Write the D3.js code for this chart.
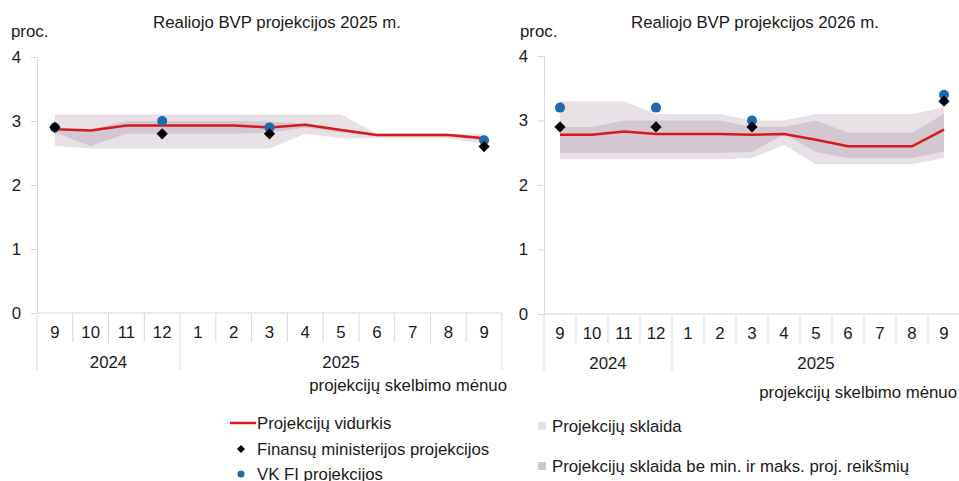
<!DOCTYPE html>
<html lang="lt">
<head>
<meta charset="utf-8">
<title>Realiojo BVP projekcijos</title>
<script src="https://d3js.org/d3.v7.min.js"></script>
<style>
  body { margin: 0; background: #fff; }
  text { font-family: "Liberation Sans", Arial, sans-serif; fill: #1a1a1a; }
</style>
</head>
<body>
<script>
// projection announcement months
var months = ["9", "10", "11", "12", "1", "2", "3", "4", "5", "6", "7", "8", "9"];
var years = [{label: "2024", from: 0, to: 4}, {label: "2025", from: 4, to: 13}];

// 2025 GDP projections
var mean25   = [2.87, 2.85, 2.93, 2.93, 2.93, 2.93, 2.90, 2.94, 2.86, 2.78, 2.78, 2.78, 2.73];
var max25    = [3.10, 3.10, 3.10, 3.10, 3.10, 3.10, 3.10, 3.10, 3.10, 2.80, 2.80, 2.80, 2.80];
var min25    = [2.61, 2.57, 2.57, 2.57, 2.57, 2.57, 2.57, 2.80, 2.73, 2.73, 2.73, 2.73, 2.64];
var innMax25 = [2.89, 2.87, 3.00, 3.00, 3.00, 3.00, 2.99, 2.96, 2.88, 2.80, 2.80, 2.80, 2.76];
var innMin25 = [2.82, 2.61, 2.80, 2.80, 2.80, 2.80, 2.82, 2.90, 2.82, 2.76, 2.76, 2.76, 2.69];
var fm25 = [{i: 0, v: 2.9}, {i: 3, v: 2.8}, {i: 6, v: 2.8}, {i: 12, v: 2.6}];
var vk25 = [{i: 0, v: 2.9}, {i: 3, v: 3.0}, {i: 6, v: 2.9}, {i: 12, v: 2.7}];

// 2026 GDP projections
var mean26   = [2.78, 2.78, 2.83, 2.79, 2.79, 2.79, 2.78, 2.79, 2.70, 2.60, 2.60, 2.60, 2.86];
var max26    = [3.30, 3.30, 3.30, 3.10, 3.10, 3.10, 3.00, 3.00, 3.10, 3.10, 3.10, 3.10, 3.20];
var min26    = [2.40, 2.40, 2.40, 2.40, 2.40, 2.40, 2.42, 2.62, 2.32, 2.32, 2.32, 2.32, 2.42];
var innMax26 = [2.90, 2.90, 3.00, 3.00, 3.00, 3.00, 2.90, 2.90, 3.00, 2.81, 2.81, 2.81, 3.10];
var innMin26 = [2.50, 2.50, 2.50, 2.50, 2.50, 2.50, 2.51, 2.79, 2.51, 2.42, 2.42, 2.42, 2.52];
var fm26 = [{i: 0, v: 2.9}, {i: 3, v: 2.9}, {i: 6, v: 2.9}, {i: 12, v: 3.3}];
var vk26 = [{i: 0, v: 3.2}, {i: 3, v: 3.2}, {i: 6, v: 3.0}, {i: 12, v: 3.4}];

var yTicks = [0, 1, 2, 3, 4];

var colOuter = "#e7e1e6", colInner = "#d3c7d1", colRed = "#d7191c", colBlue = "#1f6aad", colAxis = "#d9d9d9";
var fs = "16.8px";

var svg = d3.select("body").append("svg")
    .attr("width", 959)
    .attr("height", 481);

function panel(opt) {
    var x = d3.scaleBand().domain(d3.range(months.length)).range([opt.x0, opt.x1]).padding(0);
    var y = d3.scaleLinear().domain([0, 4]).range([opt.yb, opt.yt]);
    var cx = function(i) { return x(i) + x.bandwidth() / 2; };
    var g = svg.append("g");

    g.append("text")
        .attr("x", opt.titleX).attr("y", 28)
        .attr("text-anchor", "middle")
        .style("font-size", fs)
        .text(opt.title);
    g.append("text")
        .attr("x", opt.procX).attr("y", 37)
        .style("font-size", fs)
        .text("proc.");

    // bands
    var outer = d3.area().x(function(d, i) { return cx(i); })
        .y0(function(d, i) { return y(opt.min[i]); })
        .y1(function(d, i) { return y(opt.max[i]); });
    var inner = d3.area().x(function(d, i) { return cx(i); })
        .y0(function(d, i) { return y(opt.innMin[i]); })
        .y1(function(d, i) { return y(opt.innMax[i]); });
    g.append("path").datum(months).attr("d", outer).attr("fill", colOuter);
    g.append("path").datum(months).attr("d", inner).attr("fill", colInner);

    // y axis
    var ya = g.append("g")
        .attr("transform", "translate(" + opt.x0 + ",0)")
        .call(d3.axisLeft(y).tickValues(yTicks).tickSize(6).tickPadding(10).tickFormat(d3.format("d")));
    ya.select(".domain").attr("stroke", colAxis);
    ya.selectAll(".tick line").attr("stroke", colAxis);
    ya.selectAll(".tick text").style("font-size", fs).attr("fill", "#1a1a1a")
        .style("font-family", "'Liberation Sans', Arial, sans-serif");

    // x axis line and separators
    g.append("line").attr("x1", opt.x0).attr("x2", opt.x1).attr("y1", y(0)).attr("y2", y(0))
        .attr("stroke", colAxis);
    var bounds = d3.range(months.length + 1);
    g.selectAll(".sep").data(bounds).enter().append("line")
        .attr("x1", function(b) { return x(0) + b * x.bandwidth(); })
        .attr("x2", function(b) { return x(0) + b * x.bandwidth(); })
        .attr("y1", y(0))
        .attr("y2", function(b) {
            var isYear = years.some(function(yr) { return yr.from === b || yr.to === b; });
            return isYear ? y(0) + 57 : y(0) + 29;
        })
        .attr("stroke", colAxis);
    g.selectAll(".mlab").data(months).enter().append("text")
        .attr("x", function(d, i) { return cx(i); })
        .attr("y", y(0) + 25)
        .attr("text-anchor", "middle")
        .style("font-size", fs)
        .text(function(d) { return d; });
    g.selectAll(".ylab").data(years).enter().append("text")
        .attr("x", function(d) { return x(0) + (d.from + d.to) / 2 * x.bandwidth(); })
        .attr("y", y(0) + 55)
        .attr("text-anchor", "middle")
        .style("font-size", fs)
        .text(function(d) { return d.label; });
    g.append("text")
        .attr("x", opt.axTitleX).attr("y", opt.axTitleY)
        .attr("text-anchor", "end")
        .style("font-size", fs)
        .text("projekcijų skelbimo mėnuo");

    // mean line
    var line = d3.line().x(function(d, i) { return cx(i); }).y(function(d) { return y(d); });
    g.append("path").datum(opt.mean).attr("d", line)
        .attr("fill", "none").attr("stroke", colRed).attr("stroke-width", 2.5);

    // points
    g.selectAll(".vk").data(opt.vk).enter().append("circle")
        .attr("cx", function(d) { return cx(d.i); })
        .attr("cy", function(d) { return y(d.v); })
        .attr("r", 5).attr("fill", colBlue);
    g.selectAll(".fm").data(opt.fm).enter().append("path")
        .attr("d", d3.symbol().type(d3.symbolDiamond2).size(80))
        .attr("transform", function(d) { return "translate(" + cx(d.i) + "," + y(d.v) + ")"; })
        .attr("fill", "#000");
}

panel({x0: 37, x1: 502, yt: 57, yb: 313, title: "Realiojo BVP projekcijos 2025 m.", titleX: 277, procX: 11,
       axTitleX: 507, axTitleY: 391,
       mean: mean25, max: max25, min: min25, innMax: innMax25, innMin: innMin25, fm: fm25, vk: vk25});
panel({x0: 544, x1: 960, yt: 56, yb: 314, title: "Realiojo BVP projekcijos 2026 m.", titleX: 755, procX: 520,
       axTitleX: 957, axTitleY: 398,
       mean: mean26, max: max26, min: min26, innMax: innMax26, innMin: innMin26, fm: fm26, vk: vk26});

// legend
var lg = svg.append("g").style("font-size", fs);
lg.append("line").attr("x1", 230).attr("x2", 256).attr("y1", 423).attr("y2", 423)
    .attr("stroke", colRed).attr("stroke-width", 2.5);
lg.append("text").attr("x", 257).attr("y", 429).text("Projekcijų vidurkis");
lg.append("path").attr("d", d3.symbol().type(d3.symbolDiamond2).size(40))
    .attr("transform", "translate(241,449)").attr("fill", "#000");
lg.append("text").attr("x", 257).attr("y", 455).text("Finansų ministerijos projekcijos");
lg.append("circle").attr("cx", 241).attr("cy", 474).attr("r", 3.5).attr("fill", colBlue);
lg.append("text").attr("x", 257).attr("y", 480).text("VK FI projekcijos");
lg.append("rect").attr("x", 538).attr("y", 422).attr("width", 8).attr("height", 8).attr("fill", colOuter);
lg.append("text").attr("x", 552).attr("y", 432).text("Projekcijų sklaida");
lg.append("rect").attr("x", 538).attr("y", 462).attr("width", 8).attr("height", 8).attr("fill", colInner);
lg.append("text").attr("x", 552).attr("y", 472).text("Projekcijų sklaida be min. ir maks. proj. reikšmių");
</script>
</body>
</html>
